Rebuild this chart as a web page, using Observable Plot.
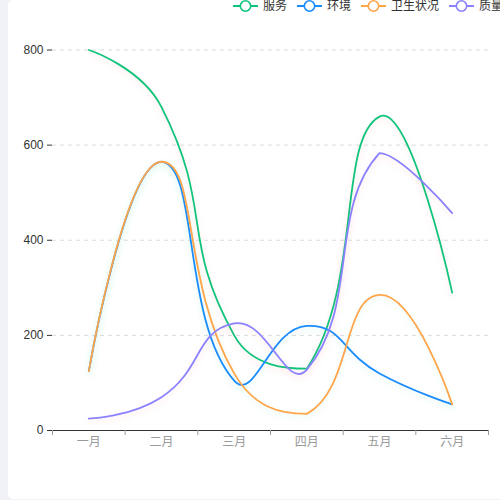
<!DOCTYPE html>
<html>
<head>
<meta charset="utf-8">
<script src="https://cdn.jsdelivr.net/npm/d3@7"></script>
<script src="https://cdn.jsdelivr.net/npm/@observablehq/plot@0.6"></script>
<style>
  html, body { margin: 0; padding: 0; width: 500px; height: 500px; overflow: hidden; background: #f1f2f7; }
  body { position: relative; font-family: "Liberation Sans", Arial, "Noto Sans CJK SC", sans-serif; }
  #card { position: absolute; left: 8px; top: 0; width: 520px; height: 499px; background: #fff; border-radius: 5px; }
  #legend { position: absolute; left: 233px; top: -1px; height: 14px; white-space: nowrap; font-size: 12px; color: #333; line-height: 14px; }
  .item { display: inline-flex; align-items: center; margin-right: 10px; }
  .item svg { display: block; }
  .item span { margin-left: 5px; }
  #chart { position: absolute; left: 0; top: 14px; }
</style>
</head>
<body>
<div id="card"></div>
<div id="legend"></div>
<div id="chart"></div>
<script>
const months = ["一月", "二月", "三月", "四月", "五月", "六月"];
const seriesNames = ["服务", "环境", "卫生状况", "质量"];
const serviceVals = [800, 680, 200, 130, 660, 290];
const envVals = [125, 565, 105, 220, 120, 55];
const hygieneVals = [125, 565, 120, 35, 285, 55];
const qualityVals = [25, 70, 225, 128, 583, 457];
const colors = ["#10c47c", "#1a8cff", "#ffa54a", "#8a82ff"];
const shadowColors = ["rgba(255,90,90,0.16)", "rgba(0,200,150,0.14)", "rgba(0,200,150,0.14)", "rgba(255,90,90,0.16)"];
const yTicks = [0, 200, 400, 600, 800];

const allVals = [serviceVals, envVals, hygieneVals, qualityVals];
const data = [];
seriesNames.forEach((s, si) => {
  months.forEach((m, i) => data.push({series: s, month: m, idx: i, value: allVals[si][i]}));
});
const boundaries = d3.range(months.length + 1).map(i => i - 0.5);

// ECharts 4 style smooth line (smooth = 0.5, constrained to the series bounding box)
function echartsSmooth(context) {
  let pts = [];
  return {
    areaStart() {}, areaEnd() {},
    lineStart() { pts = []; },
    point(x, y) { pts.push([+x, +y]); },
    lineEnd() {
      const n = pts.length;
      if (!n) return;
      const smooth = 0.5;
      let minX = Infinity, minY = Infinity, maxX = -Infinity, maxY = -Infinity;
      for (const [x, y] of pts) {
        minX = Math.min(minX, x); maxX = Math.max(maxX, x);
        minY = Math.min(minY, y); maxY = Math.max(maxY, y);
      }
      const clamp = p => [Math.max(minX, Math.min(maxX, p[0])), Math.max(minY, Math.min(maxY, p[1]))];
      context.moveTo(pts[0][0], pts[0][1]);
      let cp0 = pts[0].slice();
      let v = [0, 0];
      for (let i = 1; i < n; i++) {
        const p = pts[i], prev = pts[i - 1], next = pts[i + 1];
        let cp1, ratio = 0.5;
        if (!next) {
          cp1 = p.slice();
        } else {
          v = [next[0] - prev[0], next[1] - prev[1]];
          const lp = Math.hypot(p[0] - prev[0], p[1] - prev[1]);
          const ln = Math.hypot(next[0] - p[0], next[1] - p[1]);
          ratio = ln / (ln + lp);
          cp1 = [p[0] - v[0] * smooth * (1 - ratio), p[1] - v[1] * smooth * (1 - ratio)];
        }
        const c0 = clamp(cp0), c1 = clamp(cp1);
        context.bezierCurveTo(c0[0], c0[1], c1[0], c1[1], p[0], p[1]);
        cp0 = [p[0] + v[0] * smooth * ratio, p[1] + v[1] * smooth * ratio];
      }
    }
  };
}

// Legend
const legend = document.getElementById("legend");
seriesNames.forEach((s, i) => {
  const item = document.createElement("span");
  item.className = "item";
  item.innerHTML = `<svg width="25" height="14"><line x1="0" y1="7" x2="25" y2="7" stroke="${colors[i]}" stroke-width="2"/><circle cx="12.5" cy="7" r="5.2" fill="#fff" stroke="${colors[i]}" stroke-width="1.6"/></svg><span>${s}</span>`;
  legend.appendChild(item);
});

const lineMarks = seriesNames.map((s, i) =>
  Plot.line(data.filter(d => d.series === s), {
    x: "idx", y: "value", stroke: colors[i], strokeWidth: 1.8, curve: echartsSmooth
  })
);

const chart = Plot.plot({
  width: 500,
  height: 486,
  marginLeft: 52,
  marginRight: 12,
  marginTop: 35.5,
  marginBottom: 70,
  style: { background: "transparent", color: "#333", fontSize: "12px", fontFamily: "'Liberation Sans', Arial, 'Noto Sans CJK SC', sans-serif" },
  x: { type: "linear", domain: [boundaries[0], boundaries[boundaries.length - 1]], ticks: boundaries, tickFormat: () => "", tickSize: 5, line: true, label: null },
  y: { domain: [yTicks[0], yTicks[yTicks.length - 1]], ticks: yTicks, tickSize: 5, tickPadding: 4, label: null },
  marks: [
    Plot.ruleY(yTicks.slice(1), { stroke: "#dcdcdc", strokeDasharray: "4,4" }),
    Plot.text(months, { x: (d, i) => i, y: () => yTicks[0], dy: 12, fill: "#999", fontSize: 12 }),
    ...lineMarks
  ]
});
document.getElementById("chart").appendChild(chart);

// x-axis colour and line shadows
chart.querySelectorAll('[aria-label^="x-axis"]').forEach(g => { g.style.color = "#999"; });
chart.querySelectorAll('g[aria-label="line"]').forEach((g, i) => {
  g.style.filter = `drop-shadow(0px 3px 3px ${shadowColors[i]})`;
});
</script>
</body>
</html>
